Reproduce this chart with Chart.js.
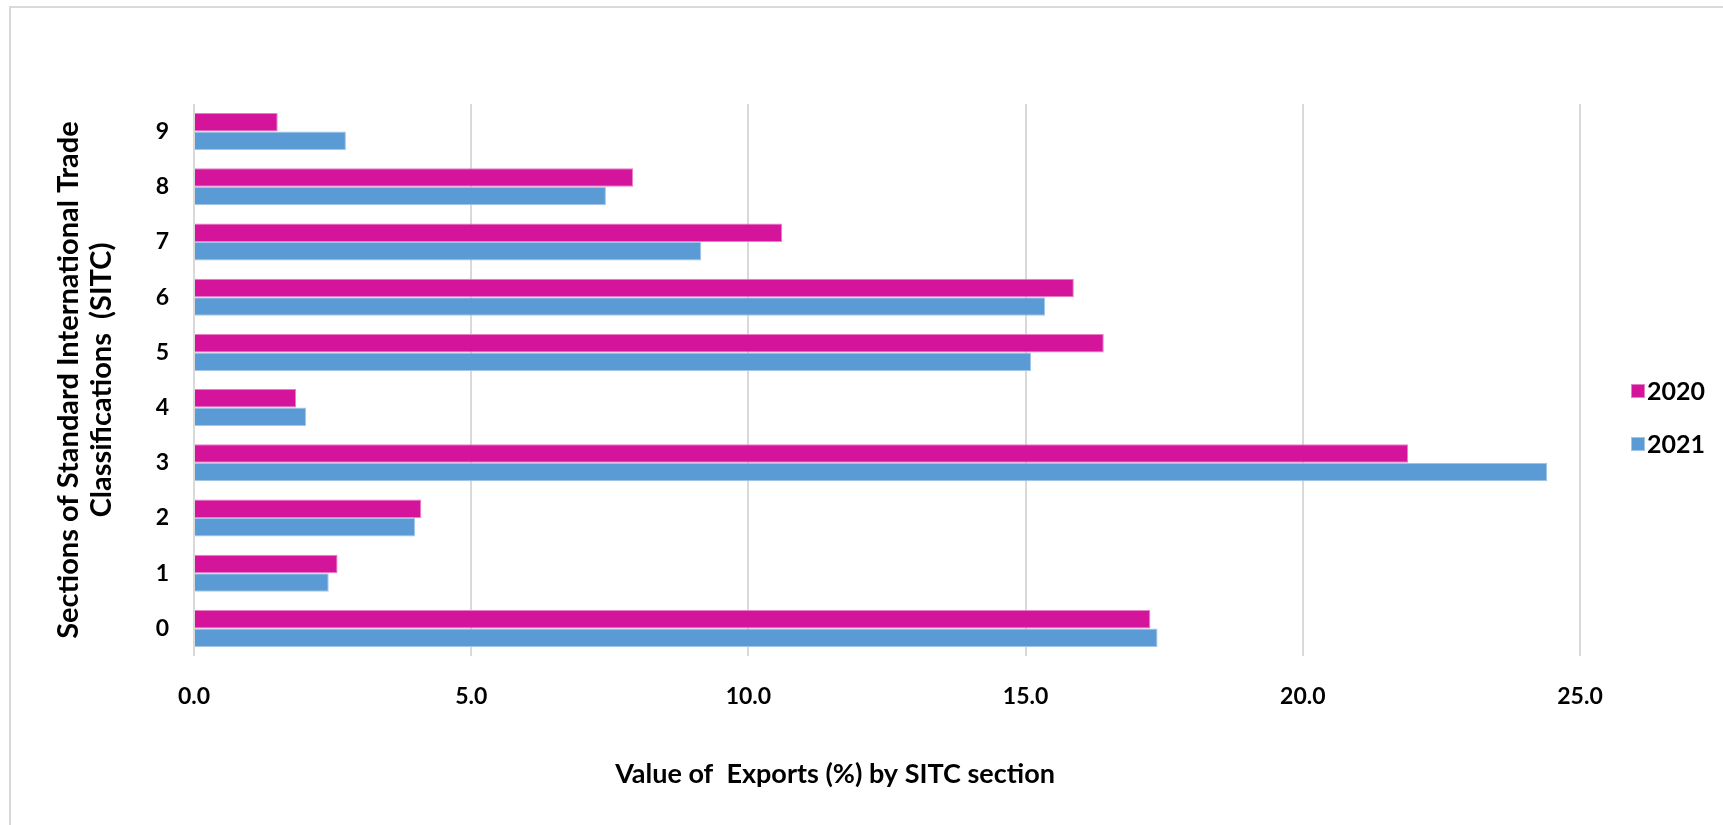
<!DOCTYPE html>
<html>
<head>
<meta charset="utf-8">
<script src="https://cdn.jsdelivr.net/npm/chart.js@4.4.1/dist/chart.umd.min.js"></script>
<style>
  body { margin: 0; background: #fff; }
  #wrap { position: relative; width: 1723px; height: 825px; overflow: hidden; }
  #frame { position: absolute; left: 9px; top: 6px; width: 1760px; height: 860px; border: 2px solid #d9d9d9; }
  canvas { position: absolute; left: 0; top: 0; }
</style>
</head>
<body>
<div id="wrap">
  <div id="frame"></div>
  <canvas id="bars" width="1723" height="825"></canvas>
</div>
<script>
const sections = ['9', '8', '7', '6', '5', '4', '3', '2', '1', '0'];
const exports2020 = [1.51, 7.92, 10.61, 15.87, 16.41, 1.84, 21.90, 4.10, 2.59, 17.25];
const exports2021 = [2.74, 7.43, 9.15, 15.35, 15.10, 2.02, 24.41, 3.99, 2.43, 17.38];
const xTitle = 'Value of  Exports (%) by SITC section';
const yTitle = ['Sections of Standard International Trade', 'Classifications  (SITC)'];

const FONT = 'Lato, "Open Sans", sans-serif';

// x title sits left of the plot centre and the legend hugs the plot,
// so both are drawn here instead of by the built-in title / legend
const extrasPlugin = {
    id: 'extras',
    afterDraw(chart) {
        const c = chart.ctx;
        c.save();
        c.fillStyle = '#000';
        c.textBaseline = 'middle';
        c.font = 'bold 27px ' + FONT;
        c.textAlign = 'center';
        c.fillText(xTitle, 835, 774);

        // legend
        c.font = 'bold 25px ' + FONT;
        c.textAlign = 'left';
        chart.data.datasets.forEach((ds, i) => {
            const y = 391 + i * 53;
            c.fillStyle = ds.borderColor;
            c.fillRect(1631, y - 7, 14, 14);
            c.fillStyle = ds.backgroundColor;
            c.fillRect(1632, y - 6, 12, 12);
            c.fillStyle = '#000';
            c.fillText(ds.label, 1647, y + 1);
        });
        c.restore();
    }
};

const ctx = document.getElementById('bars').getContext('2d');

new Chart(ctx, {
    type: 'bar',
    data: {
        labels: sections,
        datasets: [{
            label: '2020',
            data: exports2020,
            backgroundColor: '#D4149A',
            borderColor: '#E77FC6',
            borderWidth: 1
        }, {
            label: '2021',
            data: exports2021,
            backgroundColor: '#5B9BD5',
            borderColor: '#A3C6E8',
            borderWidth: 1
        }]
    },
    options: {
        indexAxis: 'y',
        responsive: false,
        animation: false,
        categoryPercentage: 0.67,
        barPercentage: 1.0,
        layout: {
            padding: { top: 104, left: 0, right: 143, bottom: 0 }
        },
        scales: {
            x: {
                min: 0,
                max: 25,
                ticks: {
                    stepSize: 5,
                    padding: 27,
                    color: '#000',
                    font: { family: FONT, size: 23, weight: 'bold' },
                    callback: v => v.toFixed(1)
                },
                grid: { color: '#d9d9d9', lineWidth: 2, drawTicks: false },
                border: { display: false },
                afterFit: s => { s.height = 169; }
            },
            y: {
                ticks: {
                    padding: 25,
                    color: '#000',
                    font: { family: FONT, size: 23, weight: 'bold' }
                },
                grid: { display: false, drawTicks: false },
                border: { display: false },
                title: {
                    display: true,
                    text: yTitle,
                    color: '#000',
                    font: { family: FONT, size: 29, weight: 'bold', lineHeight: 1.14 },
                    padding: { top: 52, bottom: 0 }
                },
                afterFit: s => { s.width = 194; }
            }
        },
        plugins: {
            legend: { display: false },
            tooltip: { enabled: false }
        }
    },
    plugins: [extrasPlugin]
});
</script>
</body>
</html>
